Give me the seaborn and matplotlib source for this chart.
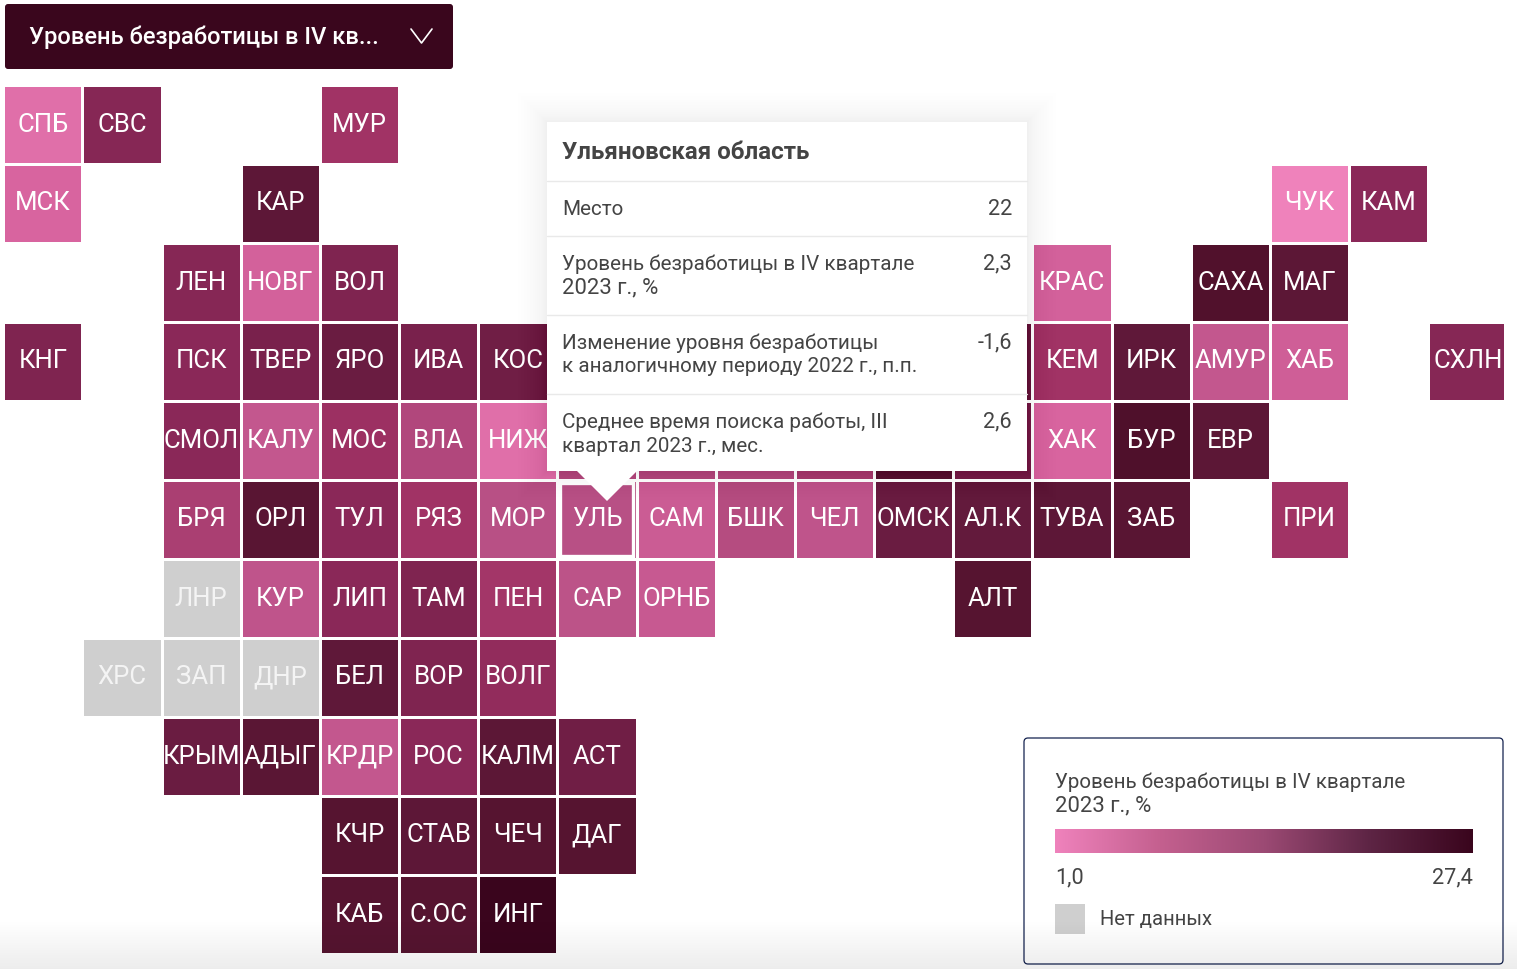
import numpy as np
import matplotlib
matplotlib.use('Agg')
import matplotlib.pyplot as plt
from matplotlib.colors import LinearSegmentedColormap, ListedColormap, LogNorm
from matplotlib.patches import FancyBboxPatch, Polygon, Rectangle
import seaborn as sns

# Tile map, "." = no tile, "_" = tile under the tooltip (label not visible)
tile_rows = [
    "СПБ СВС . . МУР . . . . . . . . . . . . . .",
    "МСК . . КАР . . . . . . . . . . . . ЧУК КАМ .",
    ". . ЛЕН НОВГ ВОЛ . . . . . . . . КРАС . САХА МАГ . .",
    "КНГ . ПСК ТВЕР ЯРО ИВА КОС . . . . . _ КЕМ ИРК АМУР ХАБ . СХЛН",
    ". . СМОЛ КАЛУ МОС ВЛА НИЖ _ _ _ _ _ _ ХАК БУР ЕВР . . .",
    ". . БРЯ ОРЛ ТУЛ РЯЗ МОР УЛЬ САМ БШК ЧЕЛ ОМСК АЛ.К ТУВА ЗАБ . ПРИ . .",
    ". . ЛНР КУР ЛИП ТАМ ПЕН САР ОРНБ . . . АЛТ . . . . . .",
    ". ХРС ЗАП ДНР БЕЛ ВОР ВОЛГ . . . . . . . . . . . .",
    ". . КРЫМ АДЫГ КРДР РОС КАЛМ АСТ . . . . . . . . . . .",
    ". . . . КЧР СТАВ ЧЕЧ ДАГ . . . . . . . . . . .",
    ". . . . КАБ С.ОС ИНГ . . . . . . . . . . . .",
]

# Unemployment, %, read from tile colours, one number per tile in each row (nan = no data)
nan = float('nan')
row_values = [
    [1.3, 4.2, 3.0],
    [1.5, 7.5, 1.0, 4.0],
    [4.2, 1.6, 4.5, 1.6, 12.0, 8.0],
    [4.5, 4.0, 4.8, 6.0, 4.8, 5.5, 6.0, 3.0, 7.0, 2.0, 1.7, 4.2],
    [4.0, 2.0, 3.2, 2.5, 1.3, 2.4, 2.4, 2.4, 2.7, 8.0, 4.8, 1.5, 13.0, 8.0],
    [2.7, 9.0, 4.0, 3.0, 2.3, 2.3, 1.8, 2.4, 2.1, 6.0, 6.6, 7.5, 9.0, 3.0],
    [nan, 2.1, 4.0, 4.5, 2.9, 2.2, 1.9, 10.0],
    [nan, nan, nan, 7.0, 4.5, 3.6],
    [6.0, 8.5, 2.0, 4.0, 8.0, 5.5],
    [10.0, 7.5, 10.0, 10.0],
    [10.0, 10.0, 27.4],
]

value_min = 1.0
value_max = 27.4

# Tile colour scale (value, colour)
scale_values = [1.0, 1.5, 2.3, 3.0, 4.0, 5.0, 7.0, 10.0, 27.4]
scale_colors = ['#ef82bb', '#d8649f', '#b85085', '#a03264', '#8a2858',
                '#76204a', '#5f1839', '#561430', '#3a051d']

# Legend bar gradient
bar_colors = ['#ef82bc', '#c4608f', '#9c4a74', '#5e2545', '#3a051d']

tooltip_rows = [
    (["Место"], "22", 209),
    (["Уровень безработицы в IV квартале", "2023 г., %"], "2,3", 264),
    (["Изменение уровня безработицы", "к аналогичному периоду 2022 г., п.п."], "-1,6", 343),
    (["Среднее время поиска работы, III", "квартал 2023 г., мес."], "2,6", 422),
]

sns.set_theme(style='white')
plt.rcParams['font.family'] = ['Roboto', 'DejaVu Sans']

labels = []
values = []
for row, vals in zip(tile_rows, row_values):
    cells = row.split()
    it = iter(vals)
    labels.append(['' if c in '._' else c for c in cells])
    values.append([np.inf if c == '.' else next(it) for c in cells])
labels = np.array(labels, dtype=object)
values = np.array(values, dtype=float)
empty = np.isinf(values)
no_data = np.isnan(values)

positions = np.log(scale_values) / np.log(value_max)
tile_cmap = LinearSegmentedColormap.from_list('tiles', list(zip(positions, scale_colors)))

fig = plt.figure(figsize=(15.17, 9.69), dpi=100, facecolor='white')
W, H = 1517, 969
ax = fig.add_axes([3.3 / W, 1 - 954.0 / H, 1504.2 / W, 869.0 / H])
text_style = {'fontsize': 18.5, 'color': 'white', 'family': ['Roboto', 'DejaVu Sans']}
sns.heatmap(np.where(empty | no_data, np.nan, values), mask=empty | no_data, annot=labels, fmt='',
            cmap=tile_cmap, norm=LogNorm(value_min, value_max), cbar=False,
            linewidths=2.0, linecolor='white', xticklabels=False, yticklabels=False,
            annot_kws=text_style, ax=ax)
sns.heatmap(np.where(no_data, 0.0, np.nan), mask=~no_data, annot=labels, fmt='',
            cmap=ListedColormap(['#cfcfcf']), cbar=False,
            linewidths=2.0, linecolor='white', xticklabels=False, yticklabels=False,
            annot_kws={**text_style, 'color': '#f4f4f4'}, ax=ax)

# everything around the map, in pixel coordinates
over = fig.add_axes([0, 0, 1, 1])
over.patch.set_alpha(0)
over.axis('off')

# the page cuts the last column
over.add_patch(Rectangle((1504.5, 80), 13, 330, fc='white', ec='none'))

# dropdown
over.add_patch(FancyBboxPatch((8, 7), 442, 59, boxstyle='round,pad=3,rounding_size=3', fc='#3a061d', ec='none'))
over.text(29, 37, 'Уровень безработицы в IV кв...', color='white', fontsize=17.15, fontweight='medium', va='center')
over.plot([411, 421.5, 432], [29, 43, 29], color='white', lw=1.2)

# hovered tile outline
over.add_patch(Rectangle((560, 483), 73.5, 73, fc='none', ec='white', lw=2.4))

# tooltip
for i in range(17):
    grow = 0.1 * (i + 1) ** 2
    over.add_patch(Rectangle((547 - grow, 122 - grow), 480 + 2 * grow, 349 + 2 * grow,
                             fc='black', ec='none', alpha=0.002))
over.add_patch(Polygon([(577, 471), (637, 471), (607, 501)], fc='white', ec='none'))
over.add_patch(Rectangle((547, 122), 480, 349, fc='white', ec='none'))
over.text(562, 152, 'Ульяновская область', color='#444444', fontsize=17.35, fontweight='bold', va='center')
for y in [180.5, 235.5, 314.5, 393.5]:
    over.plot([547, 1027], [y, y], color='#e9e9e9', lw=1)
for lines, val, y in tooltip_rows:
    for k, line in enumerate(lines):
        size = 15.9 if line.startswith('2023') else 14.85
        over.text(562, y + 24 * k, line, color='#444444', fontsize=size, va='center')
    over.text(1012, y, val, color='#444444', fontsize=15.6, va='center', ha='right')

# legend
over.add_patch(FancyBboxPatch((1027, 741), 473, 220, boxstyle='round,pad=3,rounding_size=4',
                              fc='white', ec='#14224f', lw=0.9))
over.text(1055, 782, 'Уровень безработицы в IV квартале', color='#444444', fontsize=14.75, va='center')
over.text(1055, 806, '2023 г., %', color='#444444', fontsize=15.9, va='center')
bar_cmap = LinearSegmentedColormap.from_list('bar', bar_colors)
over.imshow(np.linspace(0, 1, 256)[None, :], cmap=bar_cmap, extent=(1055, 1473, 853, 829), aspect='auto', zorder=3)
over.text(1055, 878, '1,0', color='#444444', fontsize=15.6, va='center')
over.text(1473, 878, '27,4', color='#444444', fontsize=15.6, va='center', ha='right')
over.add_patch(Rectangle((1055, 904), 30, 30, fc='#cfcfcf', ec='none'))
over.text(1100, 920, 'Нет данных', color='#444444', fontsize=14.55, va='center')

# page shade at the bottom
shade = np.zeros((50, 1, 4))
shade[:, 0, 3] = np.linspace(0, 0.075, 50)
over.imshow(shade, extent=(0, W, 969, 919), aspect='auto', zorder=10)

over.set_xlim(0, W)
over.set_ylim(H, 0)

fig.savefig('out.png', dpi=100)
